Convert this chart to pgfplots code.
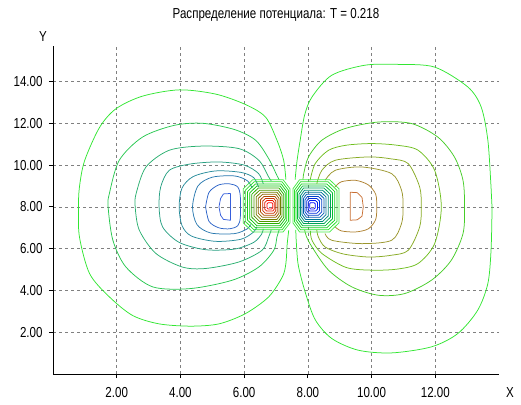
\documentclass[border=0pt]{standalone}
\usepackage{fontspec}
\setmainfont{Liberation Sans}[FakeStretch=0.8]
\usepackage{pgfplots}
\pgfplotsset{compat=1.18}

% contour colours: left lobe (negative), right lobe (positive)
\definecolor{gridc}{RGB}{128,128,128}
\definecolor{Lc1}{RGB}{50,230,50}
\definecolor{Lc2}{RGB}{40,200,80}
\definecolor{Lc3}{RGB}{40,175,110}
\definecolor{Lc4}{RGB}{40,160,130}
\definecolor{Lc5}{RGB}{40,140,155}
\definecolor{Lc6}{RGB}{40,120,175}
\definecolor{Lc7}{RGB}{45,100,200}
\definecolor{Lc8}{RGB}{55,95,220}
\definecolor{Rc1}{RGB}{50,230,50}
\definecolor{Rc2}{RGB}{70,205,40}
\definecolor{Rc3}{RGB}{110,190,30}
\definecolor{Rc4}{RGB}{135,170,35}
\definecolor{Rc5}{RGB}{155,150,45}
\definecolor{Rc6}{RGB}{175,130,50}
\definecolor{Rc7}{RGB}{200,110,50}
% central maximum (red) and minimum (blue), outer to inner
\definecolor{P1}{RGB}{70,235,70}
\definecolor{P2}{RGB}{40,225,40}
\definecolor{P3}{RGB}{20,210,20}
\definecolor{P4}{RGB}{10,195,10}
\definecolor{P5}{RGB}{40,175,0}
\definecolor{P6}{RGB}{80,150,0}
\definecolor{P7}{RGB}{115,125,0}
\definecolor{P8}{RGB}{145,100,0}
\definecolor{P9}{RGB}{175,75,0}
\definecolor{P10}{RGB}{200,50,0}
\definecolor{P11}{RGB}{230,25,0}
\definecolor{P12}{RGB}{255,0,0}
\definecolor{N1}{RGB}{70,235,70}
\definecolor{N2}{RGB}{40,225,40}
\definecolor{N3}{RGB}{20,210,30}
\definecolor{N4}{RGB}{0,190,50}
\definecolor{N5}{RGB}{0,165,85}
\definecolor{N6}{RGB}{0,140,120}
\definecolor{N7}{RGB}{0,115,150}
\definecolor{N8}{RGB}{0,90,175}
\definecolor{N9}{RGB}{0,65,200}
\definecolor{N10}{RGB}{0,45,220}
\definecolor{N11}{RGB}{0,25,240}
\definecolor{N12}{RGB}{0,0,255}

\pgfplotsset{
  ct/.style={line width=0.75bp, mark=none, line join=round, smooth, tension=0.5},
  cb/.style={line width=0.75bp, mark=none, line join=round, sharp plot},
}
\newcommand{\lblfont}{\fontsize{14.5}{16}\selectfont}

\begin{document}
\begin{tikzpicture}
\path[use as bounding box] (-53bp,-31bp) rectangle (468bp,374bp);
\begin{axis}[
  name=ax,
  at={(0,0)}, anchor=south west,
  scale only axis, width=446bp, height=328bp,
  xmin=0, xmax=14, ymin=0, ymax=15.7,
  axis lines*=left,
  axis line style={-, black, line width=0.8bp},
  xtick={2,4,6,8,10,12},
  ytick={2,4,6,8,10,12,14},
  xticklabels={2.00,4.00,6.00,8.00,10.00,12.00},
  yticklabels={2.00,4.00,6.00,8.00,10.00,12.00,14.00},
  major tick length=4bp, tick align=outside,
  tick style={black, line width=0.8bp},
  tick label style={font=\lblfont, text=black, inner sep=0pt},
  x tick label style={anchor=center, yshift=-15bp},
  y tick label style={anchor=east, xshift=-6.3bp},
  grid=major,
  grid style={gridc, line width=0.7bp, dash pattern=on 3bp off 3bp},
]

% ---- left lobe (potential minimum near x = 5.4)
\addplot[ct, Lc1] coordinates {(7.31,9.3) (7.24,10.23) (7.03,11.19) (6.67,12.3) (6.04,12.9) (5.1,13.4) (3.96,13.6) (2.81,13.3) (1.98,12.7) (1.46,11.8) (0.99,10.2) (0.83,8.95) (0.8,8.0) (0.83,6.56) (1.15,4.8) (1.77,3.69) (2.5,2.8) (3.33,2.4) (4.32,2.29) (5.21,2.4) (6.04,2.89) (6.77,3.69) (7.2,4.65) (7.31,5.29) (7.35,6.2) (7.4,6.88)};
\addplot[ct, Lc2] coordinates {(7.1,9.3) (7.03,9.5) (6.77,10.31) (6.36,11.19) (5.7,11.7) (4.7,12.0) (3.8,11.9) (2.81,11.34) (2.08,10.23) (1.77,8.64) (1.73,8.0) (1.88,6.4) (2.29,5.12) (3.13,4.17) (4.32,4.09) (5.63,4.49) (6.46,5.12) (6.93,5.92) (7.03,6.56) (7.1,6.9)};
\addplot[ct, Lc3] coordinates {(6.85,9.25) (6.77,9.43) (6.46,10.23) (5.83,10.79) (4.69,10.91) (3.65,10.71) (2.92,9.91) (2.61,8.64) (2.58,8.0) (2.71,6.88) (3.23,5.77) (4.06,5.12) (4.79,5.05) (5.83,5.36) (6.56,5.92) (6.77,6.56) (6.85,6.9)};
\addplot[ct, Lc4] coordinates {(6.6,9.1) (6.45,9.6) (6.0,10.0) (5.2,10.15) (4.3,10.05) (3.65,9.75) (3.38,8.95) (3.33,8.0) (3.44,7.04) (3.96,6.3) (4.79,5.95) (5.7,5.98) (6.3,6.3) (6.55,6.7) (6.6,6.95)};
\addplot[ct, Lc5] coordinates {(6.45,8.95) (6.3,9.4) (5.9,9.65) (5.1,9.72) (4.4,9.45) (4.05,8.9) (3.96,8.0) (4.05,7.1) (4.35,6.6) (5.1,6.35) (5.9,6.45) (6.3,6.8) (6.4,7.05)};
\addplot[ct, Lc6] coordinates {(6.25,8.9) (6.1,9.25) (5.7,9.48) (5.0,9.42) (4.55,9.0) (4.38,8.0) (4.52,7.15) (4.95,6.75) (5.7,6.72) (6.1,6.95) (6.2,7.15)};
\addplot[ct, Lc7] coordinates {(4.79,8.0) (4.9,8.7) (5.2,9.05) (5.55,9.1) (5.8,8.95) (5.88,8.5) (5.88,7.5) (5.8,7.1) (5.55,6.95) (5.2,7.0) (4.9,7.3) (4.79,8.0)};
\addplot[cb, Lc8] coordinates {(5.57,8.64) (5.35,8.62) (5.26,8.4) (5.21,8.0) (5.26,7.6) (5.35,7.4) (5.57,7.36) (5.57,8.64)};

% ---- right lobe (potential maximum near x = 9.5)
\addplot[ct, Rc1] coordinates {(7.6,9.3) (7.66,10.2) (7.76,11.2) (7.9,12.4) (8.13,13.26) (8.75,14.3) (9.79,14.78) (10.83,14.82) (11.98,14.69) (13.02,13.74) (13.44,12.78) (13.65,11.19) (13.75,8.95) (13.78,8.03) (13.75,5.92) (13.65,4.33) (13.33,3.05) (12.71,1.94) (11.88,1.3) (10.63,1.01) (9.58,1.14) (8.75,1.7) (8.23,2.6) (7.92,3.9) (7.7,5.2) (7.64,6.24) (7.62,6.9)};
\addplot[ct, Rc2] coordinates {(7.85,9.3) (7.87,9.59) (8.02,10.39) (8.44,11.19) (9.17,11.75) (10.21,12.06) (11.25,11.99) (12.08,11.34) (12.6,10.39) (12.87,9.27) (12.92,8.0) (12.87,6.72) (12.5,5.44) (11.88,4.49) (11.04,3.85) (10.21,3.77) (9.38,4.17) (8.65,4.97) (8.13,6.08) (7.95,6.6) (7.9,6.9)};
\addplot[ct, Rc3] coordinates {(8.07,9.27) (8.23,10.07) (8.65,10.71) (9.2,10.95) (10.0,11.03) (10.8,10.95) (11.46,10.71) (11.98,9.75) (12.19,8.0) (11.98,6.24) (11.46,5.29) (10.8,5.02) (10.0,4.97) (9.2,5.1) (8.44,5.77) (8.13,6.4) (8.08,6.85)};
\addplot[ct, Rc4] coordinates {(8.28,9.11) (8.44,9.75) (8.86,10.23) (9.9,10.39) (10.6,10.3) (11.15,10.07) (11.51,8.95) (11.56,8.0) (11.51,7.04) (11.15,5.92) (10.6,5.68) (9.9,5.6) (9.1,5.75) (8.54,6.08) (8.33,6.56) (8.28,6.9)};
\addplot[ct, Rc5] coordinates {(8.54,9.27) (8.86,9.75) (9.69,9.91) (10.63,9.59) (10.94,8.8) (10.99,8.0) (10.94,7.2) (10.63,6.4) (9.69,6.24) (8.75,6.4) (8.54,6.72)};
\addplot[ct, Rc6] coordinates {(8.85,8.95) (9.05,9.2) (9.5,9.27) (9.9,9.05) (10.13,8.6) (10.16,8.0) (10.13,7.4) (9.9,6.95) (9.5,6.8) (9.05,6.85) (8.85,7.05)};
\addplot[cb, Rc7] coordinates {(9.33,8.7) (9.55,8.68) (9.7,8.45) (9.74,8.0) (9.7,7.55) (9.55,7.38) (9.33,7.36) (9.33,8.7)};

% ---- central positive core
\addplot[cb, P1] coordinates {(5.97,8.863) (6.267,9.3) (7.223,9.3) (7.44,8.863) (7.44,7.237) (7.223,6.8) (6.267,6.8) (5.97,7.237) (5.97,8.863)};
\addplot[cb, P2] coordinates {(6.038,8.798) (6.312,9.2) (7.191,9.2) (7.39,8.798) (7.39,7.302) (7.191,6.9) (6.312,6.9) (6.038,7.302) (6.038,8.798)};
\addplot[cb, P3] coordinates {(6.106,8.733) (6.356,9.1) (7.159,9.1) (7.341,8.733) (7.341,7.367) (7.159,7.0) (6.356,7.0) (6.106,7.367) (6.106,8.733)};
\addplot[cb, P4] coordinates {(6.174,8.668) (6.4,9.0) (7.126,9.0) (7.291,8.668) (7.291,7.432) (7.126,7.1) (6.4,7.1) (6.174,7.432) (6.174,8.668)};
\addplot[cb, P5] coordinates {(6.242,8.603) (6.444,8.9) (7.094,8.9) (7.242,8.603) (7.242,7.497) (7.094,7.2) (6.444,7.2) (6.242,7.497) (6.242,8.603)};
\addplot[cb, P6] coordinates {(6.31,8.538) (6.488,8.8) (7.062,8.8) (7.192,8.538) (7.192,7.562) (7.062,7.3) (6.488,7.3) (6.31,7.562) (6.31,8.538)};
\addplot[cb, P7] coordinates {(6.378,8.473) (6.533,8.7) (7.03,8.7) (7.142,8.473) (7.142,7.627) (7.03,7.4) (6.533,7.4) (6.378,7.627) (6.378,8.473)};
\addplot[cb, P8] coordinates {(6.446,8.408) (6.577,8.6) (6.997,8.6) (7.093,8.408) (7.093,7.692) (6.997,7.5) (6.577,7.5) (6.446,7.692) (6.446,8.408)};
\addplot[cb, P9] coordinates {(6.514,8.343) (6.621,8.5) (6.965,8.5) (7.043,8.343) (7.043,7.757) (6.965,7.6) (6.621,7.6) (6.514,7.757) (6.514,8.343)};
\addplot[cb, P10] coordinates {(6.582,8.278) (6.665,8.4) (6.933,8.4) (6.994,8.278) (6.994,7.822) (6.933,7.7) (6.665,7.7) (6.582,7.822) (6.582,8.278)};
\addplot[cb, P11] coordinates {(6.65,8.213) (6.709,8.3) (6.901,8.3) (6.944,8.213) (6.944,7.887) (6.901,7.8) (6.709,7.8) (6.65,7.887) (6.65,8.213)};
\addplot[cb, P12] coordinates {(6.718,8.148) (6.754,8.2) (6.868,8.2) (6.894,8.148) (6.894,7.952) (6.868,7.9) (6.754,7.9) (6.718,7.952) (6.718,8.148)};

% ---- central negative core
\addplot[cb, N1] coordinates {(7.53,8.863) (7.74,9.3) (8.683,9.3) (8.98,8.863) (8.98,7.237) (8.683,6.8) (7.74,6.8) (7.53,7.237) (7.53,8.863)};
\addplot[cb, N2] coordinates {(7.578,8.798) (7.771,9.2) (8.638,9.2) (8.912,8.798) (8.912,7.302) (8.638,6.9) (7.771,6.9) (7.578,7.302) (7.578,8.798)};
\addplot[cb, N3] coordinates {(7.626,8.733) (7.802,9.1) (8.594,9.1) (8.844,8.733) (8.844,7.367) (8.594,7.0) (7.802,7.0) (7.626,7.367) (7.626,8.733)};
\addplot[cb, N4] coordinates {(7.674,8.668) (7.834,9.0) (8.55,9.0) (8.776,8.668) (8.776,7.432) (8.55,7.1) (7.834,7.1) (7.674,7.432) (7.674,8.668)};
\addplot[cb, N5] coordinates {(7.722,8.603) (7.865,8.9) (8.506,8.9) (8.708,8.603) (8.708,7.497) (8.506,7.2) (7.865,7.2) (7.722,7.497) (7.722,8.603)};
\addplot[cb, N6] coordinates {(7.77,8.538) (7.896,8.8) (8.462,8.8) (8.64,8.538) (8.64,7.562) (8.462,7.3) (7.896,7.3) (7.77,7.562) (7.77,8.538)};
\addplot[cb, N7] coordinates {(7.818,8.473) (7.927,8.7) (8.417,8.7) (8.572,8.473) (8.572,7.627) (8.417,7.4) (7.927,7.4) (7.818,7.627) (7.818,8.473)};
\addplot[cb, N8] coordinates {(7.866,8.408) (7.958,8.6) (8.373,8.6) (8.504,8.408) (8.504,7.692) (8.373,7.5) (7.958,7.5) (7.866,7.692) (7.866,8.408)};
\addplot[cb, N9] coordinates {(7.914,8.343) (7.99,8.5) (8.329,8.5) (8.436,8.343) (8.436,7.757) (8.329,7.6) (7.99,7.6) (7.914,7.757) (7.914,8.343)};
\addplot[cb, N10] coordinates {(7.962,8.278) (8.021,8.4) (8.285,8.4) (8.368,8.278) (8.368,7.822) (8.285,7.7) (8.021,7.7) (7.962,7.822) (7.962,8.278)};
\addplot[cb, N11] coordinates {(8.01,8.213) (8.052,8.3) (8.241,8.3) (8.3,8.213) (8.3,7.887) (8.241,7.8) (8.052,7.8) (8.01,7.887) (8.01,8.213)};
\addplot[cb, N12] coordinates {(8.058,8.148) (8.083,8.2) (8.196,8.2) (8.232,8.148) (8.232,7.952) (8.196,7.9) (8.083,7.9) (8.058,7.952) (8.058,8.148)};

\end{axis}
\node[font=\lblfont, inner sep=0pt] at ([yshift=31bp]ax.north) {Распределение потенциала: T = 0.218};
\node[font=\lblfont, inner sep=0pt] at ([xshift=-10bp,yshift=9bp]ax.north west) {Y};
\node[font=\lblfont, inner sep=0pt] at ([xshift=11bp,yshift=-19bp]ax.south east) {X};
\end{tikzpicture}
\end{document}
